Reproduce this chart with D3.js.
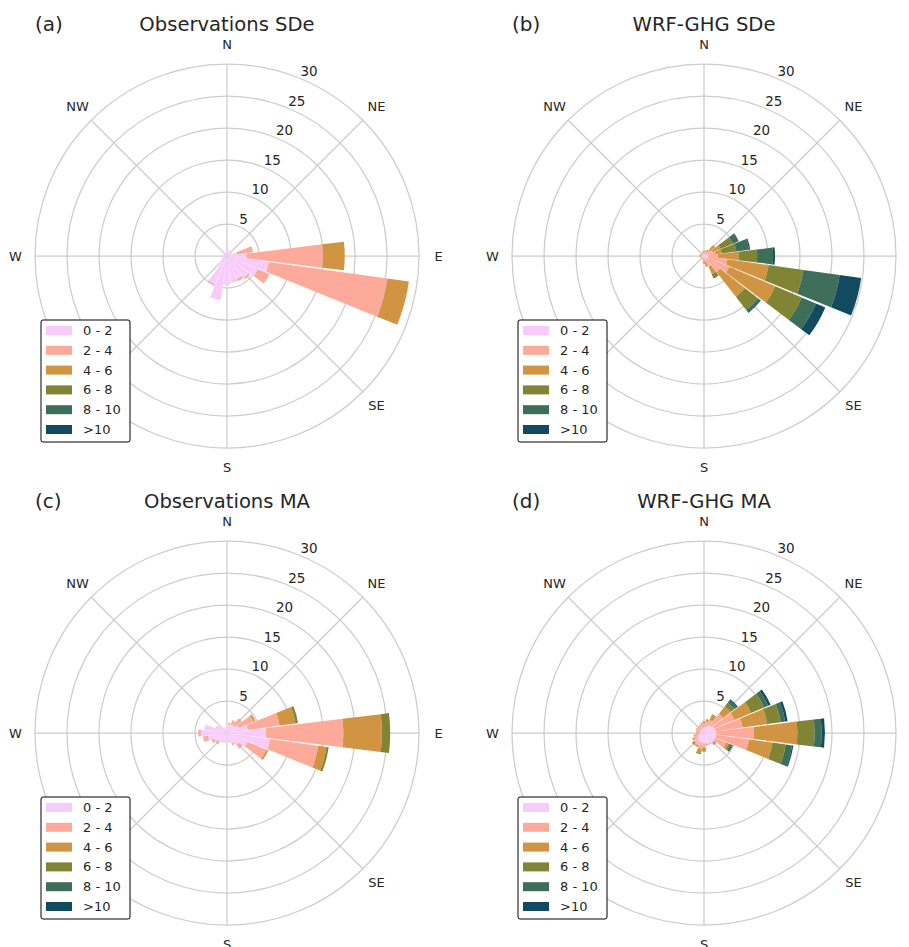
<!DOCTYPE html>
<html>
<head>
<meta charset="utf-8">
<script src="https://cdn.jsdelivr.net/npm/d3@7"></script>
<style>
    body { margin: 0; background: #fff; }
    svg { display: block; }
    text { font-family: "DejaVu Sans", sans-serif; fill: #262626; }
</style>
</head>
<body>
<svg id="chart" width="909" height="947"></svg>
<script>
// wind speed classes, stacked from the centre outwards
const speedClasses = ["0 - 2", "2 - 4", "4 - 6", "6 - 8", "8 - 10", ">10"];
const speedColors = ["#f8ccfa", "#feaa9b", "#d09442", "#808434", "#3e6e5a", "#124b5f"];

// compass directions, clockwise from north
const sectors = d3.range(0, 360, 15);
const compassLabels = ["N", "NE", "E", "SE", "S", "SW", "W", "NW"];
const radialTicks = [5, 10, 15, 20, 25, 30];

// frequency (%) per sector, one row per direction, columns are speedClasses
const obsSDe = [
    [1.5], [0.8], [1.0], [1.0], [0.9], [1.6, 2.5],
    [3.1, 11.9, 3.4], [6.6, 18.7, 3.4], [5.2, 2.0], [4.3, 0.3], [3.9, 0.4], [4.1, 0.1],
    [4.5], [7.0], [4.8, 0.2], [2.1], [1.0], [0.8],
    [0.7], [0.5], [0.5], [0.5], [0.5], [0.7]
];
const wrfSDe = [
    [0.3, 0.3, 0.1], [0.3, 0.4, 0.2], [0.3, 0.5, 0.3], [0.4, 0.8, 0.9, 0.1],
    [0.5, 1.0, 1.3, 2.1, 1.0], [0.5, 1.3, 1.0, 2.3, 2.0, 0.2],
    [0.6, 1.6, 3.2, 2.9, 2.5, 0.3], [0.7, 3.0, 6.5, 5.5, 5.7, 3.4],
    [0.7, 3.6, 7.8, 4.5, 2.4, 1.6], [0.6, 2.6, 4.9, 2.6, 0.6],
    [0.5, 1.3, 1.3, 0.7], [0.3, 0.7, 0.7],
    [0.3, 0.5, 0.4], [0.3, 0.3, 0.1], [0.3, 0.2, 0.1], [0.3, 0.2],
    [0.3, 0.2], [0.3, 0.2, 0.1], [0.3, 0.2, 0.2], [0.3, 0.2, 0.2],
    [0.3, 0.2, 0.1], [0.3, 0.2], [0.3, 0.2, 0.1], [0.3, 0.3, 0.2]
];
const obsMA = [
    [0.8], [1.3, 0.3], [1.5, 0.7], [1.5, 1.3, 0.1], [2.0, 2.5, 0.3], [3.3, 5.0, 2.5, 0.4],
    [6.1, 12.1, 6.0, 1.3], [6.8, 7.6, 1.3, 0.35], [3.5, 3.2, 0.3], [2.4, 0.65, 0.05], [1.8, 0.3], [1.4, 0.1],
    [1.3], [1.4, 0.1], [1.4, 0.1, 0.05], [1.8, 0.3, 0.1], [2.2, 0.3, 0.1], [3.0, 0.8],
    [4.1, 0.4], [3.6], [1.8, 0.1], [1.7], [1.0], [0.8]
];
const wrfMA = [
    [0.85, 0.7, 0.2, 0.05], [1.0, 0.8, 0.3, 0.05], [1.3, 0.9, 0.9, 0.1], [1.5, 2.3, 1.5, 0.7, 0.5, 0.2],
    [1.7, 3.5, 2.8, 2.2, 0.7, 0.4], [1.8, 4.3, 3.9, 2.1, 0.7, 0.4],
    [1.9, 5.9, 6.8, 2.7, 1.1, 0.5], [1.9, 5.2, 3.7, 2.1, 1.0, 0.2],
    [1.9, 1.9, 0.4, 0.3, 0.3, 0.1], [1.9, 0.2, 0.2, 0.1], [1.8, 0.1, 0.1], [1.7, 0.2, 0.1],
    [1.6, 0.7, 0.5, 0.1], [1.5, 1.0, 0.7, 0.15], [1.5, 0.6, 0.2, 0.1], [1.4, 0.6, 0.3, 0.1],
    [1.1, 0.7, 0.2], [0.8, 0.7, 0.15], [0.6, 0.55, 0.05], [0.6, 0.65, 0.05],
    [0.65, 0.7, 0.05], [0.75, 0.5, 0.05], [0.7, 0.6, 0.1], [0.75, 0.7, 0.15]
];

const panelTags = ["(a)", "(b)", "(c)", "(d)"];
const panelTitles = ["Observations SDe", "WRF-GHG SDe", "Observations MA", "WRF-GHG MA"];
const panelData = [obsSDe, wrfSDe, obsMA, wrfMA];

const svg = d3.select("#chart");
const radius = 192;
const barWidth = 14 * Math.PI / 180;
const r = d3.scaleLinear().domain([0, 30]).range([0, radius]);
const ang = d3.scaleLinear().domain([0, 360]).range([0, 2 * Math.PI]);
const arc = d3.arc();
const stack = d3.stack()
    .keys(d3.range(speedClasses.length))
    .value(function(d, k) { return d[k] || 0; });

function polar(deg, rad) {
    let a = ang(deg);
    return [rad * Math.sin(a), -rad * Math.cos(a)];
}

function drawRose(i) {
    let cx = 227 + 477 * (i % 2);
    let cy = 256 + 477 * Math.floor(i / 2);
    let g = svg.append("g").attr("transform", "translate(" + cx + "," + cy + ")");

    // grid
    g.selectAll(".ring").data(radialTicks).join("circle")
        .attr("r", function(d) { return r(d); })
        .attr("fill", "none").attr("stroke", "#cccccc").attr("stroke-width", 1.25);
    g.selectAll(".spoke").data(d3.range(0, 360, 45)).join("line")
        .attr("x2", function(d) { return polar(d, radius)[0]; })
        .attr("y2", function(d) { return polar(d, radius)[1]; })
        .attr("stroke", "#cccccc").attr("stroke-width", 1.25);

    // bars
    stack(panelData[i]).forEach(function(layer, k) {
        let bars = layer.map(function(d, j) {
            return { dir: sectors[j], y0: d[0], y1: d[1] };
        }).filter(function(b) { return b.y1 > b.y0; });
        g.append("g").selectAll("path").data(bars).join("path")
            .attr("d", function(b) {
                return arc({
                    innerRadius: r(b.y0),
                    outerRadius: r(b.y1),
                    startAngle: ang(b.dir) - barWidth / 2,
                    endAngle: ang(b.dir) + barWidth / 2
                });
            })
            .attr("fill", speedColors[k]);
    });

    // compass labels, SW sits under the legend and E of the right column is off the page
    compassLabels.forEach(function(lab, j) {
        if (lab == "SW" || (lab == "E" && i % 2 == 1)) return;
        let p = polar(j * 45, radius + 19.5);
        g.append("text")
            .attr("x", p[0]).attr("y", p[1])
            .attr("text-anchor", "middle").attr("dominant-baseline", "central")
            .attr("font-size", 13)
            .text(lab);
    });

    // radial labels
    g.selectAll(".rlabel").data(radialTicks).join("text")
        .attr("x", function(d) { return polar(22.5, r(d))[0]; })
        .attr("y", function(d) { return polar(22.5, r(d))[1] - 7.4; })
        .attr("dominant-baseline", "central")
        .attr("font-size", 13.5)
        .text(function(d) { return d; });

    // titles
    g.append("text").attr("x", 0).attr("y", -232)
        .attr("text-anchor", "middle").attr("dominant-baseline", "central")
        .attr("font-size", 19.6).text(panelTitles[i]);
    g.append("text").attr("x", -192).attr("y", -232)
        .attr("dominant-baseline", "central")
        .attr("font-size", 20).text(panelTags[i]);

    // legend
    let leg = g.append("g").attr("transform", "translate(-186,64)");
    leg.append("rect")
        .attr("width", 89).attr("height", 122).attr("rx", 2)
        .attr("fill", "#fff").attr("stroke", "#000").attr("stroke-width", 1);
    speedClasses.forEach(function(lab, k) {
        let y = 10.5 + k * 19.8;
        leg.append("rect").attr("x", 5).attr("y", y - 4.5)
            .attr("width", 26).attr("height", 9)
            .attr("fill", speedColors[k]);
        leg.append("text").attr("x", 42).attr("y", y)
            .attr("dominant-baseline", "central")
            .attr("font-size", 13).text(lab);
    });
}

d3.range(4).forEach(drawRose);
</script>
</body>
</html>
